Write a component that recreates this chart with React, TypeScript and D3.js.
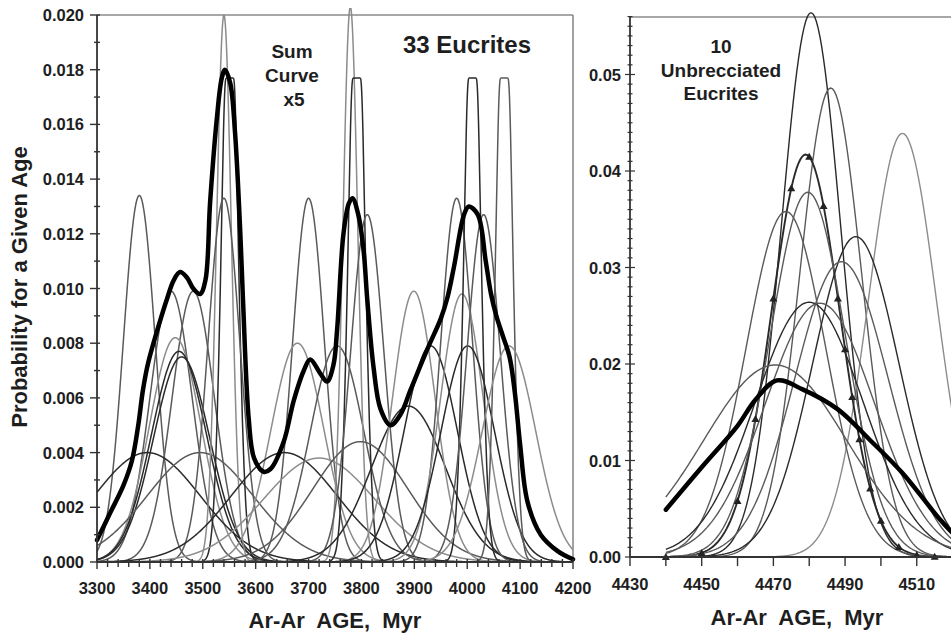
import React from "react";
import * as d3 from "d3";

// ---------- Left panel: 33 eucrites ----------
// centre age (Myr), peak probability, width (1 sigma, Myr)
const leftAges = [3380, 3440, 3482, 3448, 3455, 3460, 3395, 3495, 3540, 3551, 3540, 3700, 3679, 3654, 3720, 3754, 3779, 3791, 3811, 3798, 3889, 3899, 3931, 3980, 3990, 4001, 4010, 4031, 4070, 4079];
const leftPeaks = [0.0134, 0.0099, 0.0099, 0.0082, 0.0077, 0.0075, 0.0040, 0.0040, 0.0200, 0.0230, 0.0133, 0.0133, 0.0080, 0.0040, 0.0038, 0.0079, 0.0203, 0.0230, 0.0127, 0.0044, 0.0057, 0.0099, 0.0079, 0.0133, 0.0098, 0.0079, 0.0230, 0.0127, 0.0230, 0.0079];
const leftSigmas = [30, 40, 40, 49, 52, 53, 100, 100, 14, 13.8, 30, 30, 50, 100, 105, 50.5, 14, 13.8, 31.4, 90, 70, 40.3, 50.5, 30, 40.7, 50.5, 13.8, 31.4, 13.8, 50.5];
// curves shown with a flat top (level at which they are cut off; 0 = not cut)
const leftFlatTop = [0, 0, 0, 0, 0, 0, 0, 0, 0, 0.0177, 0, 0, 0, 0, 0, 0, 0, 0.0177, 0, 0, 0, 0, 0, 0, 0, 0, 0.0177, 0, 0.0177, 0];
const leftShades = ["mid", "mid", "mid", "light", "dark", "dark", "dark", "mid", "light", "dark", "mid", "mid", "light", "dark", "light", "mid", "light", "dark", "mid", "mid", "dark", "light", "dark", "mid", "light", "dark", "dark", "mid", "mid", "light"];

// Sum curve (x5)
const leftSumAges = [3300, 3325, 3350, 3366, 3378, 3387, 3397, 3419, 3432, 3445, 3457, 3470, 3482, 3495, 3505, 3514, 3527, 3536, 3542, 3552, 3561, 3571, 3576, 3587, 3597, 3615, 3628, 3653, 3672, 3691, 3703, 3722, 3735, 3747, 3754, 3766, 3776, 3783, 3794, 3804, 3811, 3823, 3836, 3855, 3874, 3893, 3925, 3950, 3963, 3975, 3994, 4003, 4020, 4035, 4045, 4055, 4065, 4080, 4090, 4100, 4114, 4139, 4171, 4200];
const leftSumValues = [0.0008, 0.0018, 0.0028, 0.0037, 0.0050, 0.0063, 0.0073, 0.0088, 0.0096, 0.0103, 0.0106, 0.0104, 0.0100, 0.0098, 0.0103, 0.0132, 0.0163, 0.0177, 0.0180, 0.0175, 0.0157, 0.0120, 0.0096, 0.0052, 0.0038, 0.0033, 0.0034, 0.0044, 0.0059, 0.0070, 0.0074, 0.0069, 0.0066, 0.0072, 0.0085, 0.0120, 0.0131, 0.0133, 0.0127, 0.0114, 0.0096, 0.0071, 0.0056, 0.0050, 0.0054, 0.0063, 0.0078, 0.0089, 0.0097, 0.0108, 0.0127, 0.0130, 0.0127, 0.0110, 0.0098, 0.0090, 0.0084, 0.0075, 0.0062, 0.0043, 0.0022, 0.0010, 0.0004, 0.0001];

const leftYTicks = [0, 0.002, 0.004, 0.006, 0.008, 0.01, 0.012, 0.014, 0.016, 0.018, 0.02];
const leftXTicks = [3300, 3400, 3500, 3600, 3700, 3800, 3900, 4000, 4100, 4200];

// ---------- Right panel: 10 unbrecciated eucrites ----------
const rightAges = [4480.5, 4486, 4506, 4479, 4479.6, 4473.5, 4493, 4489, 4480, 4483, 4470.5];
const rightPeaks = [0.0564, 0.0486, 0.0439, 0.0417, 0.0378, 0.0358, 0.0332, 0.0306, 0.0264, 0.0263, 0.0199];
const rightSigmas = [8.3, 8.6, 9.5, 9.57, 10.5, 11.1, 12, 13, 15.1, 15.2, 20];
const rightShades = ["dark", "mid", "light", "dark", "mid", "mid", "dark", "mid", "dark", "mid", "mid"];
const markedCurve = 3;
const markerAges = [4440, 4450, 4460, 4465, 4470, 4475, 4480, 4484, 4488, 4490, 4492, 4494, 4497, 4500, 4505, 4510, 4515];

const rightSumAges = [4440, 4450, 4460, 4465, 4471, 4478, 4488, 4497, 4506, 4516, 4520, 4526];
const rightSumValues = [0.0049, 0.0093, 0.0136, 0.0163, 0.0183, 0.0174, 0.0153, 0.0121, 0.0087, 0.0041, 0.0025, 0.0008];

const rightYTicks = [0, 0.01, 0.02, 0.03, 0.04, 0.05];
const rightXLabels = [4430, 4450, 4470, 4490, 4510];

const shadeColor: Record<string, string> = { dark: "#2a2a2a", mid: "#5a5a5a", light: "#8c8c8c" };
const FONT = "'Liberation Sans', Arial, Helvetica, sans-serif";
const TXT = "#1e1e1e";

const gauss = (x: number, mu: number, s: number, peak: number) =>
  peak * Math.exp(-((x - mu) * (x - mu)) / (2 * s * s));

export default function App() {
  const xL = d3.scaleLinear().domain([3300, 4200]).range([97, 573]);
  const yL = d3.scaleLinear().domain([0, 0.02]).range([562, 15]);
  const xR = d3.scaleLinear().domain([4430, 4520]).range([630, 952.6]);
  const yR = d3.scaleLinear().domain([0, 0.056]).range([557, 16.6]);

  const smooth = d3.curveCatmullRom.alpha(0.5);
  const lineL = d3.line<[number, number]>().x((d) => xL(d[0])).y((d) => yL(d[1]));
  const lineLRounded = d3.line<[number, number]>().x((d) => xL(d[0])).y((d) => yL(d[1])).curve(d3.curveBasis);
  const lineR = d3.line<[number, number]>().x((d) => xR(d[0])).y((d) => yR(d[1]));
  const sumLineL = d3.line<[number, number]>().x((d) => xL(d[0])).y((d) => yL(d[1])).curve(smooth);
  const sumLineR = d3.line<[number, number]>().x((d) => xR(d[0])).y((d) => yR(d[1])).curve(smooth);

  const leftGrid = d3.range(3300, 4200.01, 0.5);
  const rightGrid = d3.range(4440, 4540.01, 0.5);

  const leftCurves = leftAges.map((mu, i) => {
    const cap = leftFlatTop[i];
    const s = leftSigmas[i];
    const p = leftPeaks[i];
    if (cap > 0) {
      // symmetric sampling around the centre, corners softened by a B-spline
      const step = 3;
      const grid = d3.range(-150, 151).map((k) => mu + k * step).filter((x) => x >= 3300 && x <= 4200);
      const pts = [[3300, gauss(3300, mu, s, p)] as [number, number]]
        .concat(grid.map((x) => [x, Math.min(gauss(x, mu, s, p), cap)] as [number, number]))
        .concat([[4200, gauss(4200, mu, s, p)] as [number, number]]);
      return lineLRounded(pts) || "";
    }
    return lineL(leftGrid.map((x) => [x, gauss(x, mu, s, p)] as [number, number])) || "";
  });
  const rightCurves = rightAges.map((mu, i) =>
    lineR(rightGrid.map((x) => [x, gauss(x, mu, rightSigmas[i], rightPeaks[i])] as [number, number])) || ""
  );

  const leftSum = sumLineL(leftSumAges.map((a, i) => [a, leftSumValues[i]] as [number, number])) || "";
  const rightSum = sumLineR(rightSumAges.map((a, i) => [a, rightSumValues[i]] as [number, number])) || "";

  const leftMinorY = d3.range(0, 0.02001, 0.001);
  const leftMinorX = d3.range(3300, 4200.01, 20);
  const rightMinorY = d3.range(0, 0.0561, 0.001);
  const rightXTicks = d3.range(4430, 4521, 10);

  const axisColor = "#333";
  const frameColor = "#8a8a8a";

  const tri = (cx: number, cy: number) => {
    const r = 4;
    return `M${cx},${cy - r}L${cx + r},${cy + r * 0.75}L${cx - r},${cy + r * 0.75}Z`;
  };

  return (
    <svg width={951} height={634} style={{ position: "absolute", left: 0, top: 0, background: "#fff" }} fontFamily={FONT}>
      <defs>
        <clipPath id="clipR">
          <rect x={630} y={0} width={330} height={560} />
        </clipPath>
        <clipPath id="clipL">
          <rect x={97} y={8} width={476} height={556} />
        </clipPath>
      </defs>
      <rect x={0} y={0} width={951} height={634} fill="#fff" />

      {/* ---------- LEFT PANEL ---------- */}
      <line x1={97} y1={15} x2={573} y2={15} stroke={frameColor} strokeWidth={1.6} />
      <line x1={573} y1={15} x2={573} y2={562} stroke={frameColor} strokeWidth={1.6} />

      <g fill="none" strokeWidth={1.5} strokeLinejoin="round" clipPath="url(#clipL)">
        {leftCurves.map((d, i) => (
          <path key={i} d={d} stroke={shadeColor[leftShades[i]]} />
        ))}
      </g>
      <path d={leftSum} fill="none" stroke="#000" strokeWidth={4.5} strokeLinejoin="round" strokeLinecap="round" />

      <line x1={97} y1={15} x2={97} y2={562} stroke={axisColor} strokeWidth={1.8} />
      <line x1={97} y1={562} x2={573} y2={562} stroke={axisColor} strokeWidth={1.8} />
      {leftMinorY.map((v, i) => (
        <line key={"lmy" + i} x1={i % 2 === 0 ? 90 : 94} x2={100} y1={yL(v)} y2={yL(v)} stroke={axisColor} strokeWidth={1.4} />
      ))}
      {leftYTicks.map((v, i) => (
        <text key={"lyt" + i} x={84} y={yL(v) + 6} textAnchor="end" fontSize={16.5} fontWeight="bold" fill={TXT}>
          {v.toFixed(3)}
        </text>
      ))}
      {leftMinorX.map((v, i) => (
        <line key={"lmx" + i} x1={xL(v)} x2={xL(v)} y1={559} y2={(v - 3300) % 100 === 0 ? 569 : 567} stroke={axisColor} strokeWidth={1.4} />
      ))}
      {leftXTicks.map((v, i) => (
        <text key={"lxt" + i} x={xL(v)} y={594} textAnchor="middle" fontSize={16.5} fontWeight="bold" fill={TXT}>
          {v}
        </text>
      ))}

      <text x={292} y={58} textAnchor="middle" fontSize={19} fontWeight="bold" fill={TXT}>Sum</text>
      <text x={292} y={82} textAnchor="middle" fontSize={19} fontWeight="bold" fill={TXT}>Curve</text>
      <text x={294} y={106} textAnchor="middle" fontSize={19} fontWeight="bold" fill={TXT}>x5</text>
      <text x={467} y={53} textAnchor="middle" fontSize={24} fontWeight="bold" fill={TXT}>33 Eucrites</text>

      <text transform={`translate(27,287) rotate(-90)`} textAnchor="middle" fontSize={22} fontWeight="bold" fill={TXT}>
        Probability for a Given Age
      </text>
      <text x={335} y={628} textAnchor="middle" fontSize={22} fontWeight="bold" fill={TXT} style={{ whiteSpace: "pre" }}>
        {"Ar-Ar  AGE,  Myr"}
      </text>

      {/* ---------- RIGHT PANEL ---------- */}
      <line x1={630} y1={17} x2={951} y2={17} stroke={frameColor} strokeWidth={1.6} />
      <g clipPath="url(#clipR)">
        <g fill="none">
          {rightCurves.map((d, i) => (
            <path key={i} d={d} stroke={shadeColor[rightShades[i]]} strokeWidth={i === markedCurve ? 1.9 : 1.4} />
          ))}
        </g>
        {markerAges.map((a, i) => (
          <path
            key={"mk" + i}
            d={tri(xR(a), yR(gauss(a, rightAges[markedCurve], rightSigmas[markedCurve], rightPeaks[markedCurve])))}
            fill="#222"
          />
        ))}
        <path d={rightSum} fill="none" stroke="#000" strokeWidth={4.5} strokeLinejoin="round" strokeLinecap="round" />
      </g>

      <line x1={630} y1={17} x2={630} y2={557} stroke={axisColor} strokeWidth={1.8} />
      <line x1={630} y1={557} x2={951} y2={557} stroke={axisColor} strokeWidth={1.8} />
      {rightMinorY.map((v, i) => (
        <line key={"rmy" + i} x1={i % 10 === 0 ? 625 : 627.5} x2={i % 10 === 0 ? 635 : 632.5} y1={yR(v)} y2={yR(v)} stroke={axisColor} strokeWidth={1.2} />
      ))}
      {rightYTicks.map((v, i) => (
        <text key={"ryt" + i} x={621} y={yR(v) + 6} textAnchor="end" fontSize={16.5} fontWeight="bold" fill={TXT}>
          {v.toFixed(2)}
        </text>
      ))}
      {rightXTicks.map((v, i) => (
        <line key={"rxt" + i} x1={xR(v)} x2={xR(v)} y1={557} y2={566} stroke={axisColor} strokeWidth={1.4} />
      ))}
      {rightXLabels.map((v, i) => (
        <text key={"rxl" + i} x={xR(v)} y={590} textAnchor="middle" fontSize={16.5} fontWeight="bold" fill={TXT}>
          {v}
        </text>
      ))}

      <text x={721} y={53} textAnchor="middle" fontSize={19} fontWeight="bold" fill={TXT}>10</text>
      <text x={721} y={77} textAnchor="middle" fontSize={19} fontWeight="bold" fill={TXT}>Unbrecciated</text>
      <text x={721} y={100} textAnchor="middle" fontSize={19} fontWeight="bold" fill={TXT}>Eucrites</text>
      <text x={797} y={625} textAnchor="middle" fontSize={22} fontWeight="bold" fill={TXT} style={{ whiteSpace: "pre" }}>
        {"Ar-Ar  AGE,  Myr"}
      </text>
    </svg>
  );
}
